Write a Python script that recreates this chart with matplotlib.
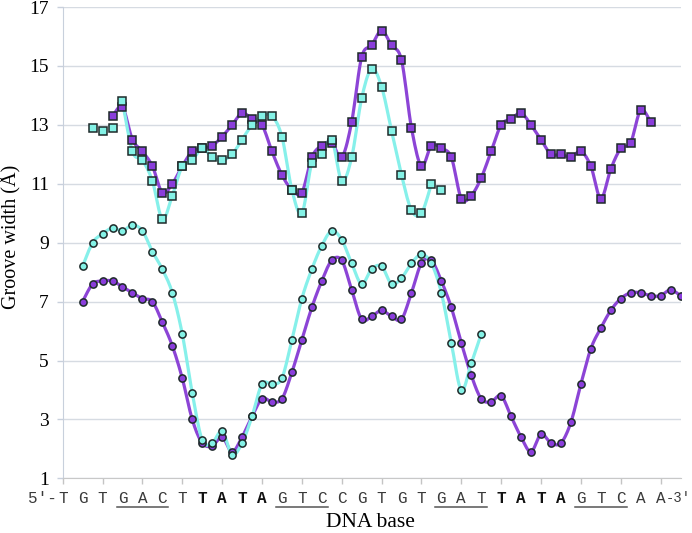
import numpy as np
import matplotlib
matplotlib.use('Agg')
import matplotlib.pyplot as plt
import matplotlib.transforms as mtransforms

# DNA sequence shown under the x axis
bases = list('TGTGACTTATAGTCCGTGTGATTATAGTCAA')
bold_bases = [7, 8, 9, 10, 22, 23, 24, 25]
underlined = [(3, 5), (11, 13), (19, 21), (26, 28)]

# major groove (squares), half-base steps
major_purple_start = 2.5
major_purple = [13.3, 13.6, 12.5, 12.1, 11.6, 10.7, 11.0, 11.6, 12.1, 12.2,
                12.3, 12.6, 13.0, 13.4, 13.2, 13.0, 12.1, 11.3, 10.8, 10.7,
                11.9, 12.3, 12.4, 11.9, 13.1, 15.3, 15.7, 16.2, 15.7, 15.2,
                12.9, 11.6, 12.3, 12.2, 11.9, 10.5, 10.6, 11.2, 12.1, 13.0,
                13.2, 13.4, 13.0, 12.5, 12.0, 12.0, 11.9, 12.1, 11.6, 10.5,
                11.5, 12.2, 12.4, 13.5, 13.1]
major_cyan_start = 1.5
major_cyan = [12.9, 12.8, 12.9, 13.8, 12.1, 11.8, 11.1, 9.8, 10.6, 11.6,
              11.8, 12.2, 11.9, 11.8, 12.0, 12.5, 13.0, 13.3, 13.3, 12.6,
              10.8, 10.0, 11.7, 12.0, 12.5, 11.1, 11.9, 13.9, 14.9, 14.3,
              12.8, 11.3, 10.1, 10.0, 11.0, 10.8]

# minor groove (circles)
minor_purple_start = 1.0
minor_purple = [7.0, 7.6, 7.7, 7.7, 7.5, 7.3, 7.1, 7.0, 6.3, 5.5,
                4.4, 3.0, 2.2, 2.1, 2.4, 1.9, 2.4, 3.1, 3.7, 3.6,
                3.7, 4.6, 5.7, 6.8, 7.7, 8.4, 8.4, 7.4, 6.4, 6.5,
                6.7, 6.5, 6.4, 7.3, 8.3, 8.4, 7.7, 6.8, 5.6, 4.5,
                3.7, 3.6, 3.8, 3.1, 2.4, 1.9, 2.5, 2.2, 2.2, 2.9,
                4.2, 5.4, 6.1, 6.7, 7.1, 7.3, 7.3, 7.2, 7.2, 7.4, 7.2]
minor_cyan_start = 1.0
minor_cyan = [8.2, 9.0, 9.3, 9.5, 9.4, 9.6, 9.4, 8.7, 8.1, 7.3,
              5.9, 3.9, 2.3, 2.2, 2.6, 1.8, 2.2, 3.1, 4.2, 4.2,
              4.4, 5.7, 7.1, 8.1, 8.9, 9.4, 9.1, 8.3, 7.6, 8.1,
              8.2, 7.6, 7.8, 8.3, 8.6, 8.3, 7.3, 5.6, 4.0, 4.9, 5.9]

yticks = [1, 3, 5, 7, 9, 11, 13, 15, 17]

PURPLE = '#8a3ddb'
PURPLE_LINE = '#8c44d6'
CYAN = '#84f2e6'
CYAN_LINE = '#86f0ea'
MONO = 'Liberation Mono'


def positions(start, values):
    return start + 0.5 * np.arange(len(values))


def smooth(x, y, n=10):
    # catmull-rom curve through the points, like excel's smoothed line
    x = np.asarray(x, float)
    y = np.asarray(y, float)
    px = np.concatenate([[x[0]], x, [x[-1]]])
    py = np.concatenate([[y[0]], y, [y[-1]]])
    t = np.linspace(0, 1, n)[:-1]
    xs, ys = [], []
    for i in range(1, len(px) - 2):
        for p, out in ((px, xs), (py, ys)):
            p0, p1, p2, p3 = p[i - 1], p[i], p[i + 1], p[i + 2]
            out.extend(0.5 * (2 * p1 + (-p0 + p2) * t
                              + (2 * p0 - 5 * p1 + 4 * p2 - p3) * t ** 2
                              + (-p0 + 3 * p1 - 3 * p2 + p3) * t ** 3))
    xs.append(x[-1])
    ys.append(y[-1])
    return xs, ys


def draw_series(ax, start, values, marker, fill, line, lo=None, hi=None):
    x = positions(start, values)
    y = np.array(values)
    sl = slice(lo, hi)
    sx, sy = smooth(x[sl], y[sl])
    ax.plot(sx, sy, color=line, lw=2.3, solid_capstyle='round', zorder=2)
    ax.plot(x, y, ls='none', marker=marker, ms=5.2, mfc=fill, mec='#1e2a2a',
            mew=1.1, zorder=3)


fig = plt.figure(figsize=(6.92, 5.33), dpi=100)
ax = fig.add_axes([0.0906, 0.1026, 0.8928, 0.8841])

draw_series(ax, major_purple_start, major_purple, 's', PURPLE, PURPLE_LINE)
draw_series(ax, minor_purple_start, minor_purple, 'o', PURPLE, PURPLE_LINE)
draw_series(ax, major_cyan_start, major_cyan, 's', CYAN, CYAN_LINE, 3, -1)
draw_series(ax, minor_cyan_start, minor_cyan, 'o', CYAN, CYAN_LINE)

ax.set_xlim(0, 31)
ax.set_ylim(1, 17)
ax.set_yticks(yticks)
ax.set_yticklabels([str(v) for v in yticks], family='Liberation Serif', fontsize=14)
ax.set_xticks(np.arange(0, 31, 2))
ax.set_xticklabels([])
ax.grid(axis='y', color='#d6dbe2', lw=1.0)
ax.set_axisbelow(True)
ax.tick_params(axis='y', length=4, width=1, color='#c8d0dc', pad=6)
ax.tick_params(axis='x', length=4, width=1, color='#c4c4c4', direction='out')
for s in ['top', 'right']:
    ax.spines[s].set_visible(False)
ax.spines['left'].set_color('#c8d0dc')
ax.spines['bottom'].set_color('#c8c8c8')

# sequence letters under the axis
trans = mtransforms.blended_transform_factory(ax.transData, ax.transAxes)
ty = -0.042
for i, b in enumerate(bases):
    ax.text(i, ty, b, transform=trans, ha='center', va='center',
            family=MONO, fontsize=11.5,
            fontweight='bold' if i in bold_bases else 'normal',
            color='#111111' if i in bold_bases else '#3a3a3a')
ax.text(-0.3, ty, '5\u2032-', transform=trans, ha='right', va='center',
        family=MONO, fontsize=11.5, color='#3a3a3a')
ax.text(31.5, ty, '-3\u2032', transform=trans, ha='right', va='center',
        family=MONO, fontsize=10, color='#3a3a3a')
for a, b in underlined:
    ax.plot([a - 0.3, b + 0.3], [-0.061, -0.061], transform=trans,
            color='#555555', lw=1.1, clip_on=False)

fig.text(0.536, 0.019, 'DNA base', ha='center', va='center',
         family='Liberation Serif', fontsize=15.5)
fig.text(0.016, 0.555, 'Groove width (\u00c5)', ha='center', va='center',
         rotation=90, family='Liberation Serif', fontsize=14.5)

plt.savefig('out.png', dpi=100)
